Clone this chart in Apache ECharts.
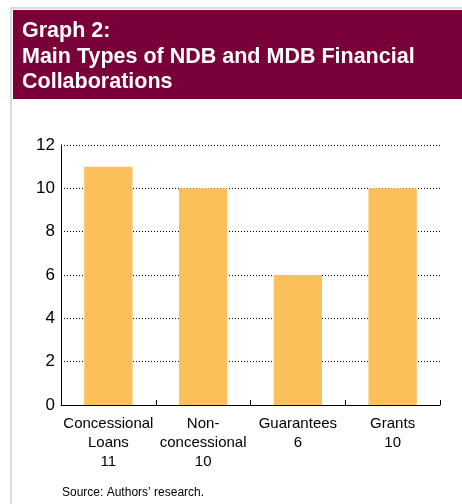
<!DOCTYPE html>
<html>
<head>
<meta charset="utf-8">
<style>html,body{margin:0;padding:0;background:#fff;}#c{width:462px;height:504px;}</style>
<script src="https://cdn.jsdelivr.net/npm/echarts@6/dist/echarts.min.js"></script>
</head>
<body>
<div id="c"></div>
<script>
var categories = ['Concessional\nLoans', 'Non-\nconcessional', 'Guarantees', 'Grants'];
var values = [11, 10, 6, 10];
var titleLines = ['Graph 2:', 'Main Types of NDB and MDB Financial', 'Collaborations'];
var sourceText = 'Source: Authors\u2019 research.';

var chart = echarts.init(document.getElementById('c'), null, {renderer: 'canvas'});
var FONT = 'Arial, "Liberation Sans", Helvetica, sans-serif';
chart.setOption({
  animation: false,
  backgroundColor: '#fff',
  graphic: [
    {type: 'rect', shape: {x: 10, y: 7, width: 460, height: 2}, style: {fill: '#dcdcdc'}, silent: true},
    {type: 'rect', shape: {x: 10, y: 7, width: 2, height: 500}, style: {fill: '#dcdcdc'}, silent: true},
    {type: 'rect', shape: {x: 13, y: 10, width: 460, height: 89}, style: {fill: '#7a0039'}, silent: true},
    {type: 'text', x: 22, y: 31, style: {text: titleLines[0], fill: '#fff', font: 'bold 21.5px ' + FONT, textVerticalAlign: 'middle'}},
    {type: 'text', x: 22, y: 57, style: {text: titleLines[1], fill: '#fff', font: 'bold 21.5px ' + FONT, textVerticalAlign: 'middle'}},
    {type: 'text', x: 22, y: 82, style: {text: titleLines[2], fill: '#fff', font: 'bold 21.5px ' + FONT, textVerticalAlign: 'middle'}},
    {type: 'text', x: 62, y: 493, style: {text: sourceText, fill: '#000', font: '12px ' + FONT, textVerticalAlign: 'middle'}}
  ],
  grid: {left: 61, right: 22, top: 145, bottom: 99},
  xAxis: {
    type: 'category',
    data: categories.map(function (c, i) { return c + '\n' + values[i]; }),
    boundaryGap: true,
    axisLine: {lineStyle: {color: '#000', width: 1}},
    axisTick: {show: true, inside: true, length: 5, lineStyle: {color: '#000'}},
    axisLabel: {color: '#000', fontSize: 15, fontFamily: FONT, lineHeight: 19, margin: 9, interval: 0},
    splitLine: {show: false}
  },
  yAxis: {
    type: 'value', min: 0, max: 12, interval: 2,
    axisLine: {show: true, lineStyle: {color: '#000', width: 1}},
    axisTick: {show: false},
    axisLabel: {color: '#000', fontSize: 17, fontFamily: FONT, margin: 6},
    splitLine: {show: true, lineStyle: {color: '#000', type: [1, 2], width: 1}}
  },
  series: [{
    type: 'bar',
    data: values,
    barWidth: '51%',
    itemStyle: {color: '#fcc05a'}
  }]
});
</script>
</body>
</html>
